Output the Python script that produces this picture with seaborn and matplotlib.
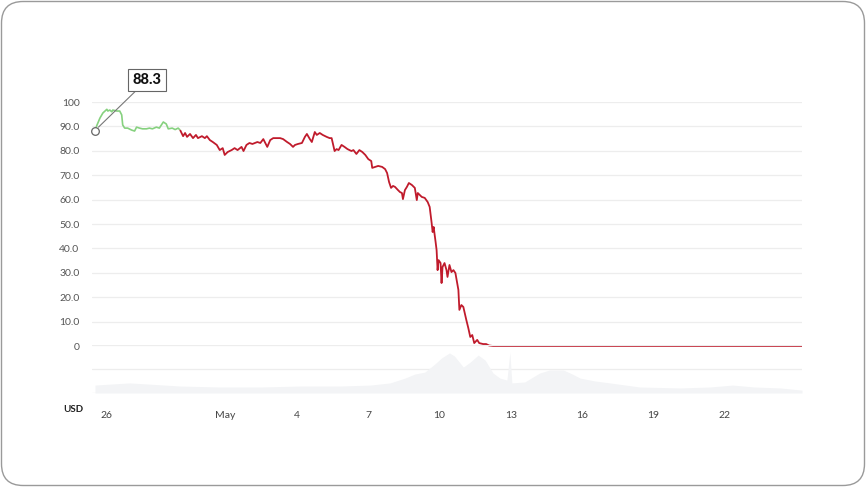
import matplotlib
matplotlib.use("Agg")
import matplotlib.pyplot as plt
from matplotlib.patches import FancyBboxPatch
import pandas as pd
import seaborn as sns

# hours since 26 Apr 00:00 -> price (USD)
green_hours = [-12, -10, -7, -4, 0, 1, 3, 5, 6, 10, 13, 15, 16, 18, 21, 25, 28, 30, 33, 36,
               40, 43, 46, 50, 53, 57, 60, 62, 66, 69, 72, 74]
green_price = [88.3, 90.5, 93.4, 95.5, 97.0, 96.3, 96.7, 96.0, 96.7, 96.3, 96.3, 94.7, 90.6, 89.3,
               89.3, 88.5, 88.1, 89.7, 89.3, 89.0, 89.0, 89.3, 89.0, 89.7, 89.3, 91.8, 91.0, 89.0,
               89.3, 88.7, 89.3, 88.5]

red_hours = [74, 77, 79, 81, 84, 87, 90, 92, 96, 99, 101, 104, 107, 111, 114, 117, 119, 122, 126,
             129, 132, 136, 138, 141, 144, 147, 152, 155, 158, 162, 165, 168, 172, 175, 178, 182,
             185, 188, 190, 193, 197, 200, 202, 205, 207, 210, 212, 215, 218, 222, 225, 227, 230,
             232, 234, 237, 240, 243, 247, 249, 252, 255, 258, 261, 264, 267, 268, 271, 274, 278,
             281, 283, 285, 287, 289, 291, 294, 296, 298, 299, 301, 303, 305, 308, 311, 313, 314,
             318, 321, 324, 326, 328, 329, 330, 332, 333, 334, 335, 337, 338, 339, 341, 343, 344,
             346, 348, 350, 352, 355, 356, 358, 360, 363, 365, 367, 369, 371, 374, 376, 380, 383,
             386, 390, 702]
red_price = [88.5, 86.0, 87.3, 85.7, 86.9, 85.2, 86.5, 85.2, 86.0, 85.2, 86.0, 84.4, 83.6, 82.4,
             80.3, 81.1, 78.3, 79.5, 80.3, 81.1, 80.3, 81.6, 79.9, 82.4, 83.2, 82.8, 83.6, 83.2,
             84.8, 81.6, 84.4, 85.2, 85.2, 85.2, 84.8, 83.6, 82.8, 81.6, 82.4, 82.8, 83.2, 85.7,
             86.9, 84.8, 83.6, 87.7, 86.5, 87.3, 86.5, 85.7, 85.2, 85.2, 79.9, 80.7, 80.3, 82.4,
             81.6, 80.7, 79.9, 80.3, 78.7, 80.3, 79.5, 78.3, 76.6, 75.8, 73.0, 73.4, 73.8, 73.4,
             72.5, 70.9, 67.2, 64.8, 65.6, 65.2, 63.9, 63.1, 62.7, 60.2, 63.9, 65.2, 66.8, 66.0,
             64.8, 59.8, 62.7, 61.1, 60.7, 59.0, 57.0, 50.4, 46.7, 48.8, 42.6, 39.3, 31.1, 35.2,
             34.0, 25.8, 32.4, 34.0, 31.1, 28.3, 33.2, 30.3, 31.1, 29.9, 23.0, 14.8, 16.8, 16.0,
             10.7, 7.4, 3.7, 4.5, 1.2, 2.5, 1.2, 0.8, 0.8, 0.2, 0.0, 0.0]

# trading volume (billions USD)
vol_hours = [-12, 3, 23, 43, 74, 114, 155, 195, 235, 266, 286, 301, 311, 321, 331, 338, 346, 351,
             360, 367, 375, 382, 390, 397, 404, 407, 409, 422, 437, 447, 461, 470, 478, 493, 508,
             538, 579, 609, 632, 654, 680, 702]
vol_values = [0.33, 0.37, 0.42, 0.37, 0.29, 0.25, 0.25, 0.29, 0.29, 0.33, 0.42, 0.62, 0.79, 0.87,
              1.20, 1.46, 1.67, 1.54, 1.08, 1.29, 1.58, 1.37, 0.83, 0.62, 0.54, 1.70, 0.42, 0.46,
              0.83, 0.96, 0.96, 0.79, 0.62, 0.50, 0.42, 0.25, 0.21, 0.25, 0.33, 0.25, 0.21, 0.12]

tick_hours = [0, 120, 192, 264, 336, 408, 480, 552, 624]
tick_labels = ["26", "May", "4", "7", "10", "13", "16", "19", "22"]
y_ticks = [0, 10, 20, 30, 40, 50, 60, 70, 80, 90, 100]
y_labels = ["0", "10.0", "20.0", "30.0", "40.0", "50.0", "60.0", "70.0", "80.0", "90.0", "100"]

green_df = pd.DataFrame({"hour": green_hours, "price": green_price})
red_df = pd.DataFrame({"hour": red_hours, "price": red_price})

sns.set_theme(style="white")
plt.rcParams["font.family"] = ["Lato", "DejaVu Sans"]

W, H = 866, 487
fig = plt.figure(figsize=(W / 100, H / 100), dpi=100)
fig.patch.set_facecolor("white")
fig.patches.append(FancyBboxPatch((1.5 / W, 1.5 / H), (W - 3) / W, (H - 3) / H,
                                  boxstyle="round,pad=0,rounding_size=0.025",
                                  transform=fig.transFigure, facecolor="none",
                                  edgecolor="#9a9a9a", linewidth=1.0, mutation_aspect=W / H))

x0, x1 = 92, 802
ax = fig.add_axes([x0 / W, (H - 346) / H, (x1 - x0) / W, (346 - 102) / H])
axv = fig.add_axes([x0 / W, (H - 393) / H, (x1 - x0) / W, (393 - 345) / H])

# volume pane
axv.fill_between(vol_hours, vol_values, color="#f3f4f6", linewidth=0)
axv.set_xlim(-15, 702)
axv.set_ylim(0, 2)
axv.set_yticks([0, 1, 2])
axv.set_yticklabels([])
axv.tick_params(axis="y", length=0)
axv.grid(axis="y", color="#ededed", linewidth=0.9)
axv.set_xticks(tick_hours)
axv.set_xticklabels(tick_labels, fontsize=7.5, color="#444444")
axv.tick_params(axis="x", length=3, color="#dddddd", pad=10)
for s in axv.spines.values():
    s.set_visible(False)
axv.set_facecolor("none")

# price pane
sns.lineplot(data=green_df, x="hour", y="price", ax=ax, color="#86d17f", linewidth=1.2)
sns.lineplot(data=red_df, x="hour", y="price", ax=ax, color="#c01b2c", linewidth=1.3)
ax.set_xlim(-15, 702)
ax.set_ylim(0, 100)
ax.set_yticks(y_ticks)
ax.set_yticklabels(y_labels, fontsize=7.5, color="#555555")
ax.tick_params(axis="y", length=0, pad=9)
ax.set_xticks([])
ax.set_xlabel("")
ax.set_ylabel("")
ax.grid(axis="y", color="#ededed", linewidth=0.9)
for s in ax.spines.values():
    s.set_visible(False)
ax.set_facecolor("none")
for ln in ax.get_lines():
    ln.set_clip_on(False)
    ln.set_solid_capstyle("butt")

ax.plot([green_hours[0]], [green_price[0]], marker="o", ms=5.5, mfc="white", mec="#666666",
        mew=0.9, clip_on=False, zorder=5)
ax.annotate("88.3", xy=(green_hours[0], green_price[0]), xycoords="data",
            xytext=(147, H - 80), textcoords="figure pixels",
            ha="center", va="center", fontsize=10.5, fontweight="black", color="#111111",
            bbox=dict(boxstyle="square,pad=0.3", facecolor="white", edgecolor="#666666", lw=0.8),
            arrowprops=dict(arrowstyle="-", color="#777777", lw=0.8, shrinkA=0, shrinkB=3.5),
            annotation_clip=False)

fig.text(73 / W, (H - 410) / H, "USD", fontsize=7, fontweight="bold", color="#222222",
         ha="center", va="center")

fig.savefig("out.png", dpi=100)
